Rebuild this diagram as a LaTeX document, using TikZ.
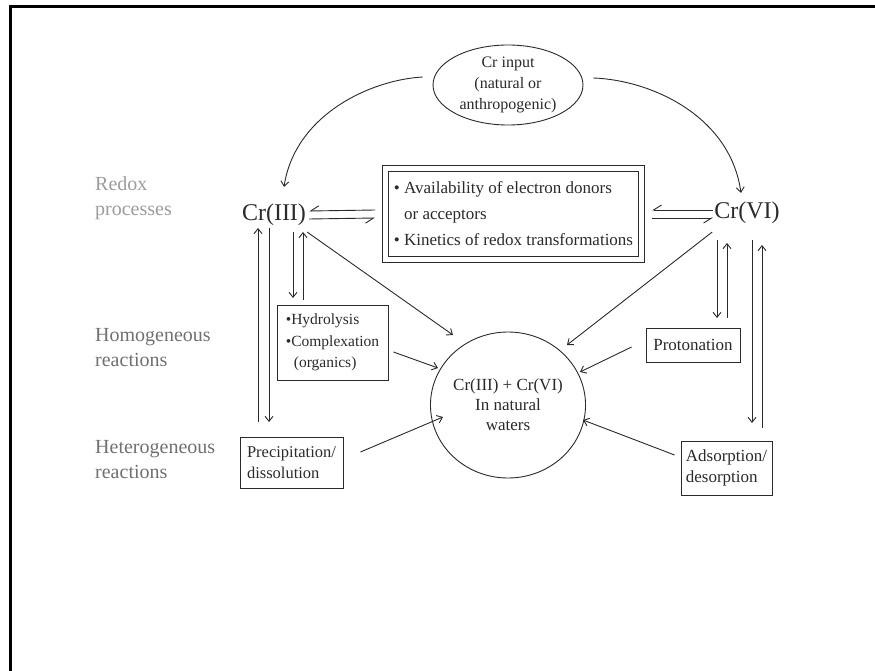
\documentclass[tikz,border=0pt]{standalone}
\usepackage{fontspec}
\setmainfont{Liberation Serif}
\usetikzlibrary{arrows.meta,shapes.geometric}
\definecolor{ink}{HTML}{2A2A2A}
\definecolor{labgray}{HTML}{707070}
\definecolor{labgraylt}{HTML}{9C9C9C}
\begin{document}
\begin{tikzpicture}[x=1pt,y=-1pt,
  every node/.style={text=ink},
  arr/.style={draw=ink, line width=0.9pt, -{Straight Barb[length=5pt,width=8pt]}},
  harp/.style={draw=ink, line width=0.9pt, -{Straight Barb[right,length=8pt,width=10pt]}},
  box/.style={draw=ink, line width=0.9pt, rectangle, inner sep=0pt, align=left},
  lab/.style={text=labgray, align=left, anchor=west, inner sep=0pt, font=\fontsize{20}{25}\selectfont},
  crlab/.style={inner sep=0pt, font=\fontsize{24}{28}\selectfont},
  txt/.style={font=\fontsize{16.5}{21}\selectfont}]
\useasboundingbox (0,0) rectangle (875,671);
\fill[white] (0,0) rectangle (875,671);
\draw[line width=3pt, black] (10.5,671) -- (10.5,7) -- (875,7);

% nodes
\node[ellipse, draw=ink, line width=0.9pt, minimum width=150pt, minimum height=80pt, inner sep=0pt, align=center, font=\fontsize{16}{21}\selectfont] (input) at (508,85) {Cr input\\(natural or\\anthropogenic)};
\node[crlab] (c3) at (274,215) {Cr(III)};
\node[crlab] (c6) at (747,213) {Cr(VI)};
\node[draw=ink, line width=0.9pt, double, double distance=5.5pt, minimum width=256pt, minimum height=91pt, inner sep=0pt, align=left, font=\fontsize{17}{26}\selectfont] (redox) at (513.5,214) {• Availability of electron donors\\\hphantom{• }or acceptors\\• Kinetics of redox transformations};
\node[box, minimum width=111pt, minimum height=75pt, font=\fontsize{15.5}{21.5}\selectfont] (hyd) at (332.5,342.5) {•Hydrolysis\\•Complexation\\\hspace{8pt}(organics)};
\node[box, minimum width=103pt, minimum height=51pt, txt] (prec) at (291.5,462.5) {Precipitation/\\dissolution};
\node[box, minimum width=94pt, minimum height=34pt, font=\fontsize{17}{21}\selectfont] (prot) at (693,345) {Protonation};
\node[box, minimum width=91pt, minimum height=54pt, font=\fontsize{17}{21}\selectfont] (ads) at (726.5,468) {Adsorption/\\desorption};
\node[ellipse, draw=ink, line width=0.9pt, minimum width=130pt, minimum height=146pt, inner sep=0pt, align=center, font=\fontsize{17}{20}\selectfont] (waters) at (508,405) {Cr(III) + Cr(VI)\\In natural\\waters};

\node[lab, text=labgraylt] (lredox) at (95,198.5) {Redox\\processes};
\node[lab] (lhom) at (95,347.5) {Homogeneous\\reactions};
\node[lab] (lhet) at (95,459.5) {Heterogeneous\\reactions};

% arcs from input
\draw[arr] ([xshift=-10pt,yshift=8pt]input.west) .. controls (370,80) and (295,115) .. ([xshift=10pt,yshift=17pt]c3.north);
\draw[arr] ([xshift=10pt,yshift=7pt]input.east) .. controls (650,80) and (730,115) .. ([xshift=-6pt,yshift=9pt]c6.north);

% harpoons
\draw[harp] ([xshift=-10pt,yshift=4pt]redox.west) -- ([xshift=3pt,yshift=4pt]c3.east);
\draw[harp] ([xshift=3pt,yshift=-4pt]c3.east) -- ([xshift=-10pt,yshift=-4pt]redox.west);
\draw[harp] ([xshift=-1pt,yshift=3pt]c6.west) -- ([xshift=10pt,yshift=4pt]redox.east);
\draw[harp] ([xshift=10pt,yshift=-4pt]redox.east) -- ([xshift=-1pt,yshift=-5pt]c6.west);

% arrow tips near the central ellipse
\coordinate (tA) at (453,335);
\coordinate (tB) at (567,345);
\coordinate (tC) at (438,368);
\coordinate (tD) at (443,417);
\coordinate (tE) at (580,372);
\coordinate (tF) at (583,420);
\draw[arr] ([xshift=1pt,yshift=-6pt]c3.south east) -- (tA);
\draw[arr] ([xshift=-2pt,yshift=-8pt]c6.south west) -- (tB);
\draw[arr] ([xshift=5pt,yshift=-9.5pt]hyd.east) -- (tC);
\draw[arr] ([xshift=17pt,yshift=10.5pt]prec.east) -- (tD);
\draw[arr] ([xshift=-14pt,yshift=-2pt]prot.west) -- (tE);
\draw[arr] ([xshift=-6pt,yshift=13pt]ads.west) -- (tF);

% vertical arrow pairs
\coordinate (lo1b) at (258,422); \coordinate (lo1t) at (258,228);
\coordinate (lo2t) at (269,228); \coordinate (lo2b) at (269,422);
\coordinate (li1t) at (293,232); \coordinate (li1b) at (293,298);
\coordinate (li2b) at (303,300); \coordinate (li2t) at (303,232);
\coordinate (ri1t) at (717,240); \coordinate (ri1b) at (717,318);
\coordinate (ri2b) at (727,318); \coordinate (ri2t) at (727,243);
\coordinate (ro1t) at (752,240); \coordinate (ro1b) at (752,423);
\coordinate (ro2b) at (762,428); \coordinate (ro2t) at (762,245);
\draw[arr] (lo1b) -- (lo1t);
\draw[arr] (lo2t) -- (lo2b);
\draw[arr] (li1t) -- (li1b);
\draw[arr] (li2b) -- (li2t);
\draw[arr] (ri1t) -- (ri1b);
\draw[arr] (ri2b) -- (ri2t);
\draw[arr] (ro1t) -- (ro1b);
\draw[arr] (ro2b) -- (ro2t);
\end{tikzpicture}
\end{document}
